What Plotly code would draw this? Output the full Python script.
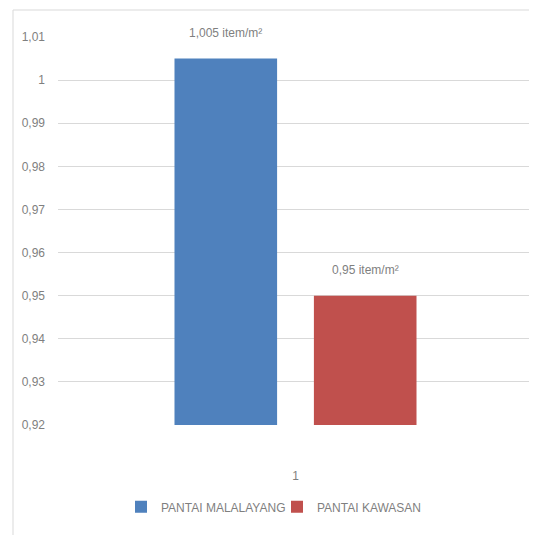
import plotly.graph_objects as go

categories = ["1"]
series_names = ["PANTAI MALALAYANG", "PANTAI KAWASAN"]
series_values = [[1.005], [0.95]]
label_texts = ["1,005 item/m²", "0,95 item/m²"]
colors = ["#4F81BD", "#C0504D"]
tick_vals = [0.92, 0.93, 0.94, 0.95, 0.96, 0.97, 0.98, 0.99, 1.0, 1.01]
tick_text = ["0,92", "0,93", "0,94", "0,95", "0,96", "0,97", "0,98", "0,99", "1", "1,01"]

FONT = "Liberation Sans, Arial, sans-serif"
GRAY = "#7f7f7f"
PLOT_W = 529 - 50 - 4

fig = go.Figure()
for name, vals, col in zip(series_names, series_values, colors):
    fig.add_trace(go.Bar(x=categories, y=vals, name=name, marker_color=col,
                         marker_line_width=0, base=0))

n = len(series_names)
slot = 140 / PLOT_W
for i, (vals, txt) in enumerate(zip(series_values, label_texts)):
    fig.add_annotation(x=0 + (i - (n - 1) / 2) * slot, xref="x", y=vals[0], yref="y",
                       text=txt, showarrow=False, yanchor="bottom", yshift=17,
                       font=dict(family=FONT, size=12, color=GRAY))

fig.update_layout(
    width=529, height=527,
    margin=dict(l=50, r=4, t=29, b=110),
    paper_bgcolor="white", plot_bgcolor="white",
    barmode="group", bargap=0.413, bargroupgap=0.264,
    font=dict(family=FONT, size=12, color=GRAY),
    showlegend=True,
    legend=dict(orientation="h", x=(121 - 58) / PLOT_W, xanchor="left", y=-0.211,
                yanchor="middle", entrywidth=111, entrywidthmode="pixels",
                font=dict(family=FONT, size=12, color=GRAY),
                traceorder="normal"),
    xaxis=dict(type="category", showgrid=False, showline=False, ticks="",
               ticklabelstandoff=42, tickfont=dict(family=FONT, size=12, color=GRAY)),
    yaxis=dict(range=[0.92, 1.01], tickvals=tick_vals, ticktext=tick_text,
               showgrid=True, gridcolor="#d9d9d9", gridwidth=1, zeroline=False,
               showline=False, ticks="", ticklabelstandoff=12,
               tickfont=dict(family=FONT, size=12, color=GRAY)),
    shapes=[dict(type="rect", xref="paper", yref="paper",
                 x0=-45 / PLOT_W, x1=1.2, y0=-0.5, y1=(425 - 10) / 388,
                 line=dict(color="#d9d9d9", width=1), fillcolor="rgba(0,0,0,0)",
                 layer="below")],
)

fig.write_html("out.html")
